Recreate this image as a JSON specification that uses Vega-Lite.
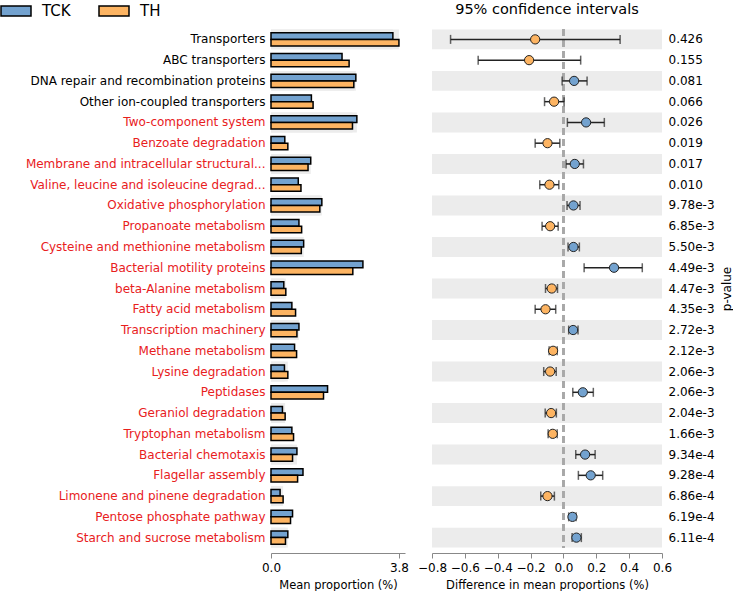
{
  "$schema": "https://vega.github.io/schema/vega-lite/v6.json",
  "padding": {"left": 0, "top": 0, "right": 0, "bottom": 0},
  "config": {
    "font": "DejaVu Sans",
    "view": {"stroke": null},
    "axis": {"labelFont": "DejaVu Sans", "titleFont": "DejaVu Sans", "labelColor": "black", "titleColor": "black", "titleFontWeight": "normal", "grid": false},
    "axisX": {"labelOverlap": false, "labelFlush": false}
  },
  "datasets": {
    "rows": [
      {"name": "Transporters", "order": 0, "TCK": 3.62, "TH": 3.80, "diff": -0.172, "lo": -0.687, "hi": 0.345, "higher": "TH", "pval": "0.426"},
      {"name": "ABC transporters", "order": 1, "TCK": 2.11, "TH": 2.32, "diff": -0.209, "lo": -0.519, "hi": 0.105, "higher": "TH", "pval": "0.155"},
      {"name": "DNA repair and recombination proteins", "order": 2, "TCK": 2.52, "TH": 2.46, "diff": 0.065, "lo": -0.008, "hi": 0.144, "higher": "TCK", "pval": "0.081"},
      {"name": "Other ion-coupled transporters", "order": 3, "TCK": 1.20, "TH": 1.25, "diff": -0.057, "lo": -0.115, "hi": 0.004, "higher": "TH", "pval": "0.066"},
      {"name": "Two-component system", "order": 4, "TCK": 2.55, "TH": 2.42, "diff": 0.138, "lo": 0.024, "hi": 0.249, "higher": "TCK", "pval": "0.026"},
      {"name": "Benzoate degradation", "order": 5, "TCK": 0.41, "TH": 0.50, "diff": -0.097, "lo": -0.172, "hi": -0.022, "higher": "TH", "pval": "0.019"},
      {"name": "Membrane and intracellular structural...", "order": 6, "TCK": 1.18, "TH": 1.10, "diff": 0.069, "lo": 0.016, "hi": 0.122, "higher": "TCK", "pval": "0.017"},
      {"name": "Valine, leucine and isoleucine degrad...", "order": 7, "TCK": 0.81, "TH": 0.89, "diff": -0.085, "lo": -0.144, "hi": -0.028, "higher": "TH", "pval": "0.010"},
      {"name": "Oxidative phosphorylation", "order": 8, "TCK": 1.51, "TH": 1.45, "diff": 0.061, "lo": 0.022, "hi": 0.101, "higher": "TCK", "pval": "9.78e-3"},
      {"name": "Propanoate metabolism", "order": 9, "TCK": 0.83, "TH": 0.91, "diff": -0.081, "lo": -0.130, "hi": -0.032, "higher": "TH", "pval": "6.85e-3"},
      {"name": "Cysteine and methionine metabolism", "order": 10, "TCK": 0.97, "TH": 0.90, "diff": 0.061, "lo": 0.028, "hi": 0.097, "higher": "TCK", "pval": "5.50e-3"},
      {"name": "Bacterial motility proteins", "order": 11, "TCK": 2.73, "TH": 2.43, "diff": 0.308, "lo": 0.126, "hi": 0.480, "higher": "TCK", "pval": "4.49e-3"},
      {"name": "beta-Alanine metabolism", "order": 12, "TCK": 0.38, "TH": 0.44, "diff": -0.071, "lo": -0.109, "hi": -0.036, "higher": "TH", "pval": "4.47e-3"},
      {"name": "Fatty acid metabolism", "order": 13, "TCK": 0.62, "TH": 0.73, "diff": -0.109, "lo": -0.172, "hi": -0.047, "higher": "TH", "pval": "4.35e-3"},
      {"name": "Transcription machinery", "order": 14, "TCK": 0.83, "TH": 0.77, "diff": 0.059, "lo": 0.032, "hi": 0.089, "higher": "TCK", "pval": "2.72e-3"},
      {"name": "Methane metabolism", "order": 15, "TCK": 0.70, "TH": 0.76, "diff": -0.063, "lo": -0.087, "hi": -0.038, "higher": "TH", "pval": "2.12e-3"},
      {"name": "Lysine degradation", "order": 16, "TCK": 0.40, "TH": 0.50, "diff": -0.081, "lo": -0.120, "hi": -0.044, "higher": "TH", "pval": "2.06e-3"},
      {"name": "Peptidases", "order": 17, "TCK": 1.68, "TH": 1.56, "diff": 0.118, "lo": 0.057, "hi": 0.182, "higher": "TCK", "pval": "2.06e-3 "},
      {"name": "Geraniol degradation", "order": 18, "TCK": 0.34, "TH": 0.42, "diff": -0.075, "lo": -0.111, "hi": -0.043, "higher": "TH", "pval": "2.04e-3"},
      {"name": "Tryptophan metabolism", "order": 19, "TCK": 0.62, "TH": 0.67, "diff": -0.065, "lo": -0.093, "hi": -0.038, "higher": "TH", "pval": "1.66e-3"},
      {"name": "Bacterial chemotaxis", "order": 20, "TCK": 0.77, "TH": 0.64, "diff": 0.132, "lo": 0.075, "hi": 0.193, "higher": "TCK", "pval": "9.34e-4"},
      {"name": "Flagellar assembly", "order": 21, "TCK": 0.95, "TH": 0.79, "diff": 0.166, "lo": 0.091, "hi": 0.239, "higher": "TCK", "pval": "9.28e-4"},
      {"name": "Limonene and pinene degradation", "order": 22, "TCK": 0.27, "TH": 0.36, "diff": -0.097, "lo": -0.138, "hi": -0.055, "higher": "TH", "pval": "6.86e-4"},
      {"name": "Pentose phosphate pathway", "order": 23, "TCK": 0.64, "TH": 0.58, "diff": 0.055, "lo": 0.032, "hi": 0.077, "higher": "TCK", "pval": "6.19e-4"},
      {"name": "Starch and sucrose metabolism", "order": 24, "TCK": 0.50, "TH": 0.43, "diff": 0.079, "lo": 0.053, "hi": 0.109, "higher": "TCK", "pval": "6.11e-4"}
    ]
  },
  "hconcat": [
    {
      "width": 134,
      "height": 519,
      "data": {"name": "rows"},
      "transform": [{"fold": ["TCK", "TH"], "as": ["group", "value"]}],
      "layer": [
        {
          "mark": {"type": "rect"},
          "encoding": {
            "y": {"field": "name", "type": "nominal", "sort": null},
            "fill": {"condition": {"test": "datum.order % 2 == 0", "value": "#ececec"}, "value": "transparent"}
          }
        },
        {
          "mark": {"type": "bar", "stroke": "black", "strokeWidth": 1.5},
          "encoding": {
            "y": {"field": "name", "type": "nominal", "sort": null},
            "yOffset": {"field": "group", "type": "nominal", "sort": ["TCK", "TH"], "scale": {"paddingOuter": 0.5, "paddingInner": 0}},
            "x": {"field": "value", "type": "quantitative"},
            "color": {
              "field": "group", "type": "nominal",
              "scale": {"domain": ["TCK", "TH"], "range": ["#73a2cf", "#fdb462"]},
              "legend": {
                "orient": "none", "legendX": -271, "legendY": -29, "direction": "horizontal", "title": null,
                "symbolType": "M-1,-0.667H1V0H-1Z", "symbolSize": 900,
                "symbolStrokeColor": "black", "symbolStrokeWidth": 1.5,
                "labelFontSize": 15, "labelOffset": 10, "labelBaseline": "alphabetic", "columnPadding": 25, "labelFont": "DejaVu Sans"
              }
            }
          }
        }
      ],
      "encoding": {
        "y": {
          "field": "name", "type": "nominal", "sort": null,
          "scale": {"paddingInner": 0.04, "paddingOuter": 0.02},
          "axis": {
            "title": null, "domain": false, "ticks": false, "labelPadding": 6, "labelFontSize": 12, "labelLimit": 400,
            "labelColor": {"expr": "indexof(['Transporters','ABC transporters','DNA repair and recombination proteins','Other ion-coupled transporters'], datum.label) >= 0 ? 'black' : '#e8201d'"}
          }
        },
        "x": {
          "field": "value", "type": "quantitative",
          "scale": {"domain": [0, 3.98], "nice": false, "zero": true},
          "axis": {"values": [0, 3.8], "format": ".1f", "title": "Mean proportion (%)", "titleFontSize": 11.5, "labelFontSize": 12, "labelOverlap": false, "domainColor": "#888", "tickColor": "#888", "tickSize": 5, "offset": 5, "labelPadding": 4, "titlePadding": 6}
        }
      }
    },
    {
      "width": 230,
      "height": 519,
      "data": {"name": "rows"},
      "title": {"text": "95% confidence intervals", "fontSize": 14.5, "fontWeight": "normal", "font": "DejaVu Sans", "offset": 11},
      "encoding": {
        "y": {
          "field": "pval", "type": "nominal", "sort": null,
          "scale": {"paddingInner": 0.04, "paddingOuter": 0.02},
          "axis": {"orient": "right", "title": "p-value", "titleAngle": 270, "titleFontSize": 12, "titlePadding": 19, "domain": false, "ticks": false, "labelPadding": 6, "labelFontSize": 12}
        }
      },
      "layer": [
        {
          "mark": {"type": "rect"},
          "encoding": {
            "fill": {"condition": {"test": "datum.order % 2 == 0", "value": "#ececec"}, "value": "transparent"}
          }
        },
        {
          "mark": {"type": "rule", "color": "#a8a8a8", "strokeDash": [7, 4], "strokeWidth": 1.5},
          "encoding": {"x": {"datum": 0, "type": "quantitative", "scale": {"domain": [-0.8, 0.6], "nice": false},
              "axis": {"values": [-0.8, -0.6, -0.4, -0.2, 0, 0.2, 0.4, 0.6], "format": ".1f", "title": "Difference in mean proportions (%)", "titleFontSize": 11.5, "labelFontSize": 12, "labelOverlap": false, "labelFlush": false, "domainColor": "#888", "tickColor": "#888", "tickSize": 5, "offset": 5, "labelPadding": 4, "titlePadding": 6}}, "y": null}
        },
        {
          "mark": {"type": "rule", "color": "#222", "strokeWidth": 1.5},
          "encoding": {
            "x": {"field": "lo", "type": "quantitative", "scale": {"domain": [-0.8, 0.6], "nice": false},
              "axis": {"values": [-0.8, -0.6, -0.4, -0.2, 0, 0.2, 0.4, 0.6], "format": ".1f", "title": "Difference in mean proportions (%)", "titleFontSize": 11.5, "labelFontSize": 12, "labelOverlap": false, "labelFlush": false, "domainColor": "#888", "tickColor": "#888", "tickSize": 5, "offset": 5, "labelPadding": 4, "titlePadding": 6}},
            "x2": {"field": "hi"}
          }
        },
        {
          "mark": {"type": "tick", "color": "#222", "thickness": 1.5, "size": 9, "orient": "vertical"},
          "encoding": {"x": {"field": "lo", "type": "quantitative", "scale": {"domain": [-0.8, 0.6], "nice": false},
              "axis": {"values": [-0.8, -0.6, -0.4, -0.2, 0, 0.2, 0.4, 0.6], "format": ".1f", "title": "Difference in mean proportions (%)", "titleFontSize": 11.5, "labelFontSize": 12, "labelOverlap": false, "labelFlush": false, "domainColor": "#888", "tickColor": "#888", "tickSize": 5, "offset": 5, "labelPadding": 4, "titlePadding": 6}}}
        },
        {
          "mark": {"type": "tick", "color": "#222", "thickness": 1.5, "size": 9, "orient": "vertical"},
          "encoding": {"x": {"field": "hi", "type": "quantitative", "scale": {"domain": [-0.8, 0.6], "nice": false},
              "axis": {"values": [-0.8, -0.6, -0.4, -0.2, 0, 0.2, 0.4, 0.6], "format": ".1f", "title": "Difference in mean proportions (%)", "titleFontSize": 11.5, "labelFontSize": 12, "labelOverlap": false, "labelFlush": false, "domainColor": "#888", "tickColor": "#888", "tickSize": 5, "offset": 5, "labelPadding": 4, "titlePadding": 6}}}
        },
        {
          "mark": {"type": "point", "shape": "circle", "filled": true, "size": 85, "stroke": "#222", "strokeWidth": 1, "opacity": 1},
          "encoding": {
            "x": {"field": "diff", "type": "quantitative", "scale": {"domain": [-0.8, 0.6], "nice": false},
              "axis": {"values": [-0.8, -0.6, -0.4, -0.2, 0, 0.2, 0.4, 0.6], "format": ".1f", "title": "Difference in mean proportions (%)", "titleFontSize": 11.5, "labelFontSize": 12, "labelOverlap": false, "labelFlush": false, "domainColor": "#888", "tickColor": "#888", "tickSize": 5, "offset": 5, "labelPadding": 4, "titlePadding": 6}},
            "color": {"field": "higher", "type": "nominal", "scale": {"domain": ["TCK", "TH"], "range": ["#73a2cf", "#fdb462"]}, "legend": null}
          }
        }
      ]
    }
  ],
  "spacing": 8
}
